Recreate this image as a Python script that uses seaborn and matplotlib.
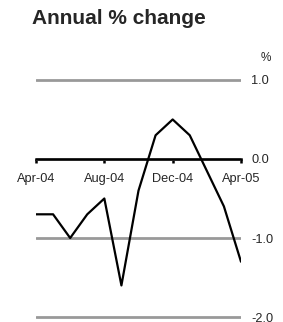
"""Annual % change line chart, monthly Apr-04 to Apr-05."""

import matplotlib

matplotlib.use("Agg")
import matplotlib.pyplot as plt
import pandas as pd
import seaborn as sns

# --- Data ---
months = ["Apr-04", "May-04", "Jun-04", "Jul-04", "Aug-04", "Sep-04", "Oct-04",
          "Nov-04", "Dec-04", "Jan-05", "Feb-05", "Mar-05", "Apr-05"]
annual_change = [-0.7, -0.7, -1.0, -0.7, -0.5, -1.6, -0.4,
                 0.3, 0.5, 0.3, -0.15, -0.6, -1.3]
y_ticks = [1.0, 0.0, -1.0, -2.0]
x_tick_labels = ["Apr-04", "Aug-04", "Dec-04", "Apr-05"]

df = pd.DataFrame({"month": months, "value": annual_change})
df["pos"] = range(len(df))

sns.set_style("white")
plt.rcParams["font.family"] = ["Liberation Sans", "DejaVu Sans"]

W, H = 283, 322
fig = plt.figure(figsize=(W / 100, H / 100), dpi=100)
ax = fig.add_axes([36 / W, 1 / H, 205 / W, 245 / H])

# grid lines (grey) and the zero axis (black)
ax.set_ylim(-2.05, 1.05)
ax.set_xlim(0, 12)
ax.set_yticks(y_ticks)
ax.yaxis.grid(True, color="#999999", linewidth=2)
ax.set_axisbelow(True)

sns.lineplot(data=df, x="pos", y="value", ax=ax, color="black", linewidth=1.6)

for side in ["top", "left", "right"]:
    ax.spines[side].set_visible(False)
ax.spines["bottom"].set_position(("data", 0))
ax.spines["bottom"].set_color("black")
ax.spines["bottom"].set_linewidth(1.8)
ax.spines["bottom"].set_zorder(3)

ax.set_xticks([months.index(m) for m in x_tick_labels])
ax.set_xticklabels(x_tick_labels)
ax.tick_params(axis="x", direction="out", length=3, width=1.8, color="black",
               pad=7, labelsize=9.2, bottom=True)

ax.yaxis.tick_right()
ax.set_yticklabels([f"{v:.1f}" for v in y_ticks])
ax.tick_params(axis="y", length=0, pad=7.5, labelsize=9.2, right=False)
ax.set_xlabel(None)
ax.set_ylabel(None)

fig.text(32 / W, 1 - 18 / H, "Annual % change", fontsize=15,
         fontweight="bold", va="center", ha="left")
fig.text(266 / W, 1 - 58 / H, "%", fontsize=8.5, va="center", ha="center")

fig.savefig("out.png", dpi=100)
plt.close(fig)
